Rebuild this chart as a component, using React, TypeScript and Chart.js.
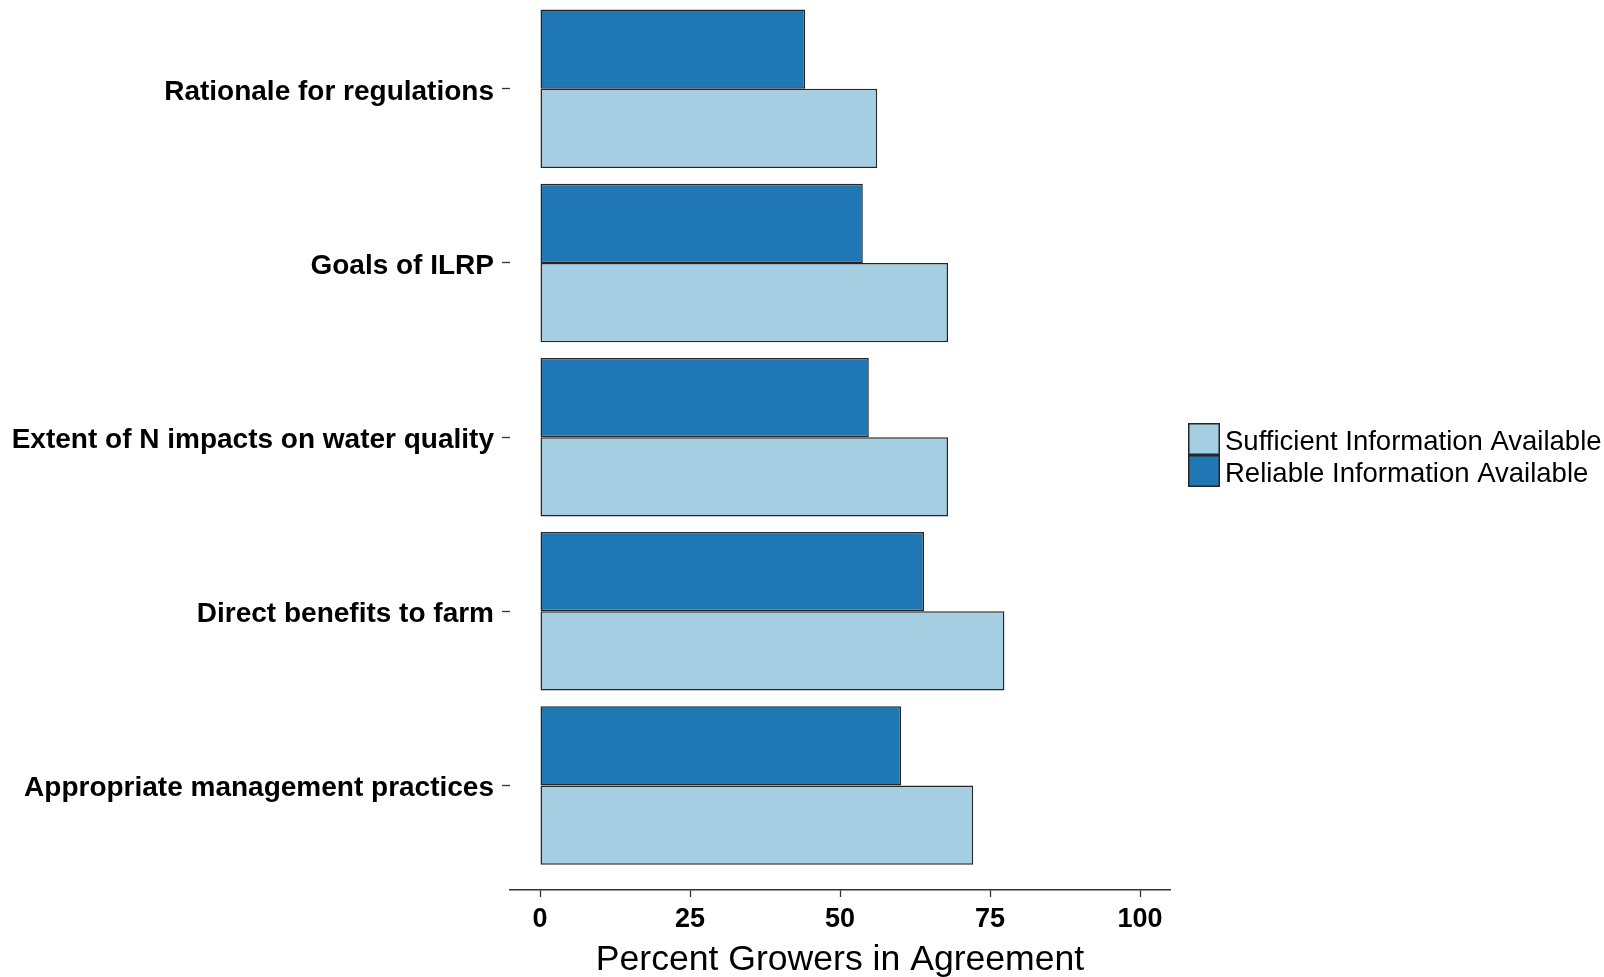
import React, { useEffect, useRef } from "react";
import { Chart, registerables } from "chart.js";

Chart.register(...registerables);

// ---- data ----
const categories = [
  "Rationale for regulations",
  "Goals of ILRP",
  "Extent of N impacts on water quality",
  "Direct benefits to farm",
  "Appropriate management practices",
];
const reliableValues = [44.2, 53.8, 54.8, 64.0, 60.2];
const sufficientValues = [56.2, 68.0, 68.0, 77.4, 72.2];
const xTickValues = [0, 25, 50, 75, 100];
const seriesNames = ["Sufficient Information Available", "Reliable Information Available"];
const xTitle = "Percent Growers in Agreement";

const DARK = "#1f78b4";
const LIGHT = "#a6cee3";
const EDGE = "#262626";
const FONT = '"Liberation Sans", Arial, sans-serif';

const legendPlugin = {
  id: "ggLegend",
  afterDraw(chart: any) {
    const ctx = chart.ctx as CanvasRenderingContext2D;
    const x0 = chart.chartArea.right + 18;
    const boxW = 32;
    const boxH = 32;
    const top0 = 423;
    const entries = [
      { label: seriesNames[0], color: LIGHT },
      { label: seriesNames[1], color: DARK },
    ];
    ctx.save();
    entries.forEach((e, i) => {
      const y = top0 + i * boxH;
      ctx.fillStyle = e.color;
      ctx.fillRect(x0, y, boxW, boxH);
      ctx.lineWidth = 1.5;
      ctx.strokeStyle = EDGE;
      ctx.strokeRect(x0 + 0.75, y + 0.75, boxW - 1.5, boxH - 1.5);
      ctx.fillStyle = "#000";
      ctx.font = `27.5px ${FONT}`;
      ctx.textBaseline = "middle";
      ctx.textAlign = "left";
      ctx.fillText(e.label, x0 + 37, y + boxH / 2 + 3);
    });
    ctx.restore();
  },
};

export default function App() {
  const ref = useRef<HTMLCanvasElement | null>(null);

  useEffect(() => {
    if (!ref.current) return;
    const toPts = (vals: number[]) => vals.map((v, i) => ({ x: v, y: i + 1 }));
    const chart = new Chart(ref.current, {
      type: "bar",
      data: {
        datasets: [
          {
            label: seriesNames[1],
            data: toPts(reliableValues) as any,
            backgroundColor: DARK,
            borderColor: EDGE,
            borderWidth: 1.5,
            borderSkipped: false,
            categoryPercentage: 0.91,
            barPercentage: 1,
          },
          {
            label: seriesNames[0],
            data: toPts(sufficientValues) as any,
            backgroundColor: LIGHT,
            borderColor: EDGE,
            borderWidth: 1.5,
            borderSkipped: false,
            categoryPercentage: 0.91,
            barPercentage: 1,
          },
        ],
      },
      options: {
        indexAxis: "y",
        animation: false,
        responsive: true,
        maintainAspectRatio: false,
        layout: { padding: { top: 0, right: 434, bottom: 0, left: 0 } },
        plugins: {
          legend: { display: false },
          tooltip: { enabled: false },
        },
        scales: {
          y: {
            type: "linear",
            reverse: true,
            offset: false,
            min: 0.49,
            max: 5.6,
            afterBuildTicks: (s: any) => {
              s.ticks = categories.map((_, i) => ({ value: i + 1 }));
            },
            afterFit: (s: any) => {
              s.width = 510;
              s.paddingTop = 0;
              s.paddingBottom = 0;
            },
            grid: {
              offset: false,
              drawOnChartArea: false,
              drawTicks: true,
              tickLength: 8,
              tickWidth: 1.3,
              tickColor: "#333",
            },
            border: { display: false },
            ticks: {
              autoSkip: false,
              padding: 8,
              labelOffset: 3,
              color: "#000",
              font: { family: FONT, size: 28, weight: "bold" },
              callback: (v: any) => categories[Math.round(Number(v)) - 1] ?? "",
            },
          },
          x: {
            type: "linear",
            min: -5,
            max: 105,
            afterBuildTicks: (s: any) => {
              s.ticks = xTickValues.map((v) => ({ value: v }));
            },
            afterFit: (s: any) => {
              s.height = 87;
            },
            grid: {
              drawOnChartArea: false,
              drawTicks: true,
              tickLength: 7,
              tickWidth: 1.3,
              tickColor: "#333",
            },
            border: { display: true, color: "#333", width: 1.5 },
            ticks: {
              autoSkip: false,
              padding: 6,
              color: "#000",
              font: { family: FONT, size: 27, weight: "bold" },
            },
            title: {
              display: true,
              text: xTitle,
              color: "#000",
              font: { family: FONT, size: 35.6, weight: "normal", lineHeight: 1.15 },
              padding: { top: 0, bottom: -4 },
            },
          },
        },
      },
      plugins: [legendPlugin],
    });
    return () => chart.destroy();
  }, []);

  return (
    <div
      style={{
        position: "absolute",
        left: 0,
        top: 0,
        width: 1604,
        height: 977,
        background: "#fff",
      }}
    >
      <canvas ref={ref} />
    </div>
  );
}
